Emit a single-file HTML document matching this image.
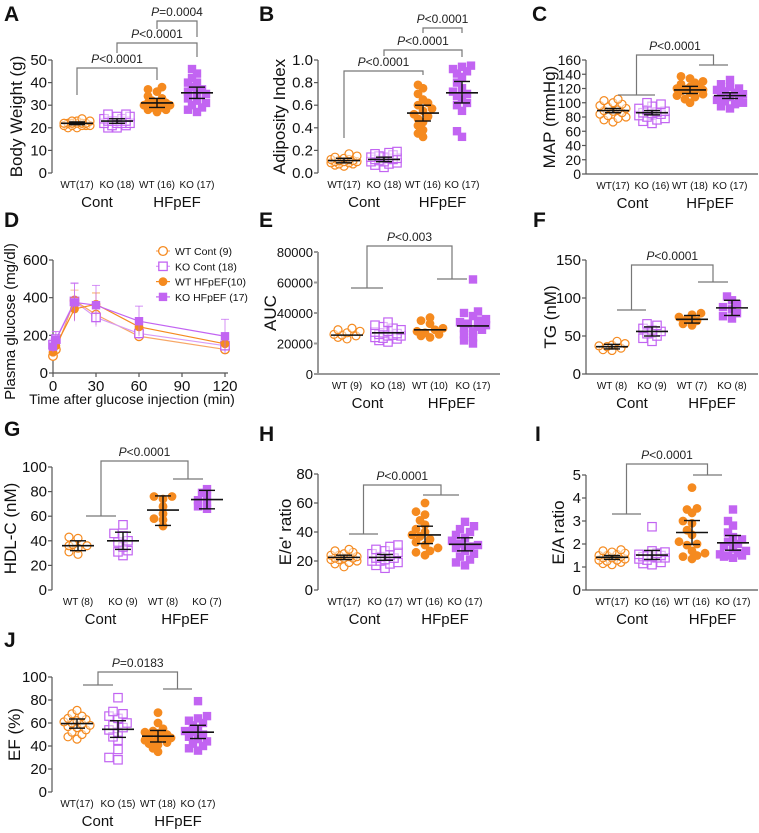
<!DOCTYPE html>
<html><head><meta charset="utf-8"><style>
html,body{margin:0;padding:0;background:#fff;}
svg{display:block;font-family:"Liberation Sans",Arial,sans-serif;}
</style></head><body>
<svg id="fig" width="759" height="833" viewBox="0 0 759 833" xmlns="http://www.w3.org/2000/svg"></svg>
<script>
// ---------- DATA ----------
const catsA=["WT(17)","KO (18)","WT (16)","KO (17)"];
const A_wtc=[20,21,21,22,22,22,22,21,23,23,24,20,21,22,23,22,21];
const A_koc=[20,21,22,22,23,23,24,25,26,26,21,22,23,24,20,22,23,25];
const A_wth=[27,28,28,29,29,30,30,31,31,31,32,33,34,36,37,38];
const A_koh=[27,28,29,30,31,32,33,35,35,36,37,38,40,40,42,44,46];
const A_mean=[22,23,31,35.5], A_lo=[21.4,22,29,33], A_hi=[22.6,24,33,38];

const catsB=["WT(17)","KO (18)","WT (16)","KO (17)"];
const B_wtc=[0.06,0.07,0.08,0.09,0.09,0.1,0.1,0.11,0.11,0.12,0.12,0.13,0.14,0.15,0.17,0.08,0.1];
const B_koc=[0.05,0.07,0.08,0.09,0.1,0.11,0.12,0.12,0.13,0.14,0.15,0.16,0.17,0.18,0.19,0.1,0.13,0.14];
const B_wth=[0.32,0.35,0.38,0.42,0.45,0.48,0.5,0.52,0.55,0.57,0.6,0.62,0.65,0.7,0.75,0.78];
const B_koh=[0.32,0.37,0.55,0.6,0.62,0.65,0.68,0.7,0.72,0.75,0.8,0.85,0.88,0.9,0.92,0.94,0.95];
const B_mean=[0.11,0.12,0.53,0.71], B_lo=[0.09,0.1,0.46,0.62], B_hi=[0.13,0.14,0.6,0.81];

const catsC=["WT(17)","KO (16)","WT (18)","KO (17)"];
const C_wtc=[73,76,78,80,82,84,86,88,89,90,92,94,96,98,100,103,105];
const C_koc=[71,74,76,78,80,82,84,85,86,87,88,90,92,95,98,100];
const C_wth=[100,105,108,110,112,114,116,117,118,119,120,122,124,126,128,130,134,137];
const C_koh=[92,95,98,100,102,104,106,108,110,112,114,116,118,120,122,126,132];
const C_mean=[89,86,118,110], C_lo=[86,83,113,106], C_hi=[92,89,123,114];

const D_time=[0,2,15,30,60,120];
const D_wtc=[90,125,385,310,195,125], D_wtcErr=[15,15,55,60,25,25];
const D_koc=[150,180,380,295,210,145], D_kocErr=[30,40,100,50,30,40];
const D_wth=[110,145,340,365,245,155], D_wthErr=[20,20,60,60,40,30];
const D_koh=[140,175,375,360,275,195], D_kohErr=[30,45,100,105,80,90];
const D_legend=["WT Cont (9)","KO Cont (18)","WT HFpEF(10)","KO HFpEF (17)"];

const catsE=["WT (9)","KO (18)","WT (10)","KO (17)"];
const E_wtc=[23000,24000,25000,25500,26000,27000,28000,29000,30000];
const E_koc=[21000,22000,23000,24000,25000,25500,26000,26500,27000,27500,28000,29000,30000,31000,32000,34000,23500,25000];
const E_wth=[24000,25000,26000,27000,28000,29000,30000,33000,35000,37000];
const E_koh=[20000,22000,24000,26000,28000,29000,30000,31000,32000,33000,34000,35000,36000,38000,40000,41000,62000];
const E_mean=[25500,27000,29000,31500];

const catsF=["WT (8)","KO (9)","WT (7)","KO (8)"];
const F_wtc=[31,32,34,36,37,38,40,43];
const F_koc=[43,47,50,53,56,58,60,64,66];
const F_wth=[64,66,70,72,75,78,80];
const F_koh=[73,76,80,85,88,92,97,102];
const F_mean=[36,56,72,87], F_lo=[33,50,67,77], F_hi=[39,62,77,97];

const catsG=["WT (8)","KO (9)","WT (8)","KO (7)"];
const G_wtc=[29,31,34,36,36,37,42,43];
const G_koc=[28,31,32,35,39,40,44,46,53];
const G_wth=[52,57,58,62,68,74,76,76];
const G_koh=[66,68,71,73,76,79,82];
const G_mean=[36,40,65,73.5], G_lo=[32,33,52.5,66], G_hi=[40,47,76.5,81];

const catsH=["WT(17)","KO (17)","WT (16)","KO (17)"];
const H_wtc=[16,18,19,20,21,21,22,22,23,23,24,24,25,26,27,28,22];
const H_koc=[15,17,18,19,20,21,22,22,23,24,25,26,27,28,30,31,20];
const H_wth=[24,26,27,29,31,33,35,37,38,40,42,45,48,52,54,60];
const H_koh=[17,19,21,23,25,27,29,30,31,32,34,36,38,40,42,44,47];
const H_mean=[22.5,22.5,38,31.5], H_lo=[21,20.5,32,27], H_hi=[24,24.5,44,36];

const catsI=["WT(17)","KO (16)","WT (16)","KO (17)"];
const I_wtc=[1.1,1.15,1.2,1.25,1.3,1.35,1.4,1.4,1.45,1.5,1.5,1.55,1.6,1.65,1.7,1.75,1.3];
const I_koc=[1.1,1.15,1.2,1.3,1.35,1.4,1.45,1.5,1.55,1.6,1.65,1.7,1.5,1.45,1.4,2.75];
const I_wth=[1.35,1.45,1.5,1.6,1.7,1.95,2.0,2.1,2.4,2.6,2.9,3.0,3.35,3.5,3.55,4.45];
const I_koh=[1.4,1.45,1.5,1.5,1.55,1.6,1.7,1.8,1.9,2.0,2.1,2.2,2.3,2.5,2.8,3.0,3.5];
const I_mean=[1.42,1.52,2.5,2.05], I_lo=[1.33,1.33,1.98,1.73], I_hi=[1.5,1.72,3.02,2.37];

const catsJ=["WT(17)","KO (15)","WT (18)","KO (17)"];
const J_wtc=[46,48,50,52,54,56,57,58,59,60,61,62,63,64,66,68,71];
const J_koc=[28,30,37,45,48,52,54,56,58,60,64,66,68,70,82];
const J_wth=[35,38,41,42,43,44,45,46,47,48,49,50,51,52,53,55,60,69];
const J_koh=[36,38,40,42,44,46,48,50,52,53,55,58,60,62,64,66,79];
const J_mean=[59.5,54.5,48.5,52], J_lo=[55.5,47.5,43.5,46.5], J_hi=[63.5,62,53.5,58];

// ---------- DRAWING ----------
const NS="http://www.w3.org/2000/svg";
const svg=document.getElementById('fig');
const OR="#F58A1F", PU="#C264F2", AX="#555";
function mk(tag,attrs,parent){const e=document.createElementNS(NS,tag);for(const k in attrs)e.setAttribute(k,attrs[k]);(parent||svg).appendChild(e);return e;}
function txt(s,x,y,size,anchor,parent,extra){const t=mk('text',Object.assign({x:x,y:y,'font-size':size,'text-anchor':anchor||'middle',fill:'#111'},extra||{}),parent);t.textContent=s;return t;}
function pText(s,x,y,parent){const t=mk('text',{x:x,y:y,'font-size':12,'text-anchor':'middle',fill:'#222'},parent);
  const i=mk('tspan',{'font-style':'italic'},t);i.textContent='P';const r=mk('tspan',{},t);r.textContent=s;return t;}
function marker(g,x,y,shape,col,open){
  let e;
  if(shape==='c') e=mk('circle',{cx:x,cy:y,r:open?4:4.4,fill:open?'#fff':col,stroke:col,'stroke-width':open?1.2:0},g);
  else e=mk('rect',{x:x-4.2,y:y-4.2,width:8.4,height:8.4,fill:open?'#fff':col,stroke:col,'stroke-width':open?1.2:0},g);
  if(open) e.setAttribute('fill-opacity','0.5');
  return e;
}
function yAxis(g,ax,y0,y1,max,ticks,fmt,fs,col,w){
  const sc=v=>y0-(v/max)*(y0-y1);
  mk('line',{x1:ax,y1:y0,x2:ax,y2:y1,stroke:col||AX,'stroke-width':w||1.2},g);
  ticks.forEach(t=>{const y=sc(t);mk('line',{x1:ax-4,y1:y,x2:ax,y2:y,stroke:col||AX,'stroke-width':w||1.2},g);
    txt(fmt?fmt(t):String(t),ax-5,y+5,fs||15,'end',g);});
  return sc;
}
function panel(p){
  const g=mk('g',{});
  
  
  const lt=txt(p.letter,p.lx,p.ly,21,'start',g,{'font-weight':'bold'});
  
  
  const sc=yAxis(g,p.ax,p.y0,p.y1,p.max,p.ticks,p.fmt,p.tfs,p.axCol,p.axW);
  if(p.xline){mk('line',{x1:p.ax,y1:p.y0,x2:p.xline,y2:p.y0,stroke:p.axCol||AX,'stroke-width':p.axW||1.2},g);}
  const yt=txt(p.ytitle,0,0,p.yfs||17,'middle',g,{transform:`translate(${p.ytx},${(p.y0+p.y1)/2}) rotate(-90)`});
  
  
  const shapes=['c','s','c','s'], cols=[OR,PU,OR,PU], open=[true,true,false,false];
  p.groups.forEach((vals,gi)=>{
    const gg=mk('g',{},g);
    
    
    const cx=p.xs[gi]; const placed=[];
    vals.slice().sort((a,b)=>a-b).forEach(v=>{
      const y=sc(v); let off=0, best=-1;
      const cand=[0,-5,5,-9,9,-13,13];
      for(const o of cand){
        const d=placed.length?Math.min(...placed.map(q=>Math.hypot(q[0]-(cx+o),q[1]-y))):99;
        if(d>=6){off=o;best=d;break;}
        if(d>best){best=d;off=o;}
      }
      placed.push([cx+off,y]);
      const m=marker(gg,cx+off,y,shapes[gi],cols[gi],open[gi]);
      
      
    });
    const my=sc(p.mean[gi]);
    const ml=mk('line',{x1:cx-16,y1:my,x2:cx+16,y2:my,stroke:'#111','stroke-width':1.6},gg);
    
    
    if(p.lo){const a=sc(p.lo[gi]),b=sc(p.hi[gi]);
      mk('line',{x1:cx,y1:a,x2:cx,y2:b,stroke:'#111','stroke-width':1.4},gg);
      mk('line',{x1:cx-8,y1:a,x2:cx+8,y2:a,stroke:'#111','stroke-width':1.4},gg);
      mk('line',{x1:cx-8,y1:b,x2:cx+8,y2:b,stroke:'#111','stroke-width':1.4},gg);}
    const cl=txt(p.cats[gi],cx,p.y0+15,10,'middle',g);
    
    
  });
  const c1=txt('Cont',(p.xs[0]+p.xs[1])/2,p.y0+34,15,'middle',g);
  
  
  const c2=txt('HFpEF',(p.xs[2]+p.xs[3])/2,p.y0+34,15,'middle',g);
  
  
  (p.brackets||[]).forEach(b=>{
    const bg=mk('g',{},g);
    
    
    mk('polyline',{points:`${b[0]},${b[3]} ${b[0]},${b[2]} ${b[1]},${b[2]} ${b[1]},${b[4]}`,fill:'none',stroke:'#777','stroke-width':1.2},bg);
    pText(b[5],(b[0]+b[1])/2,b[2]-5,bg);
  });
  (p.gbrackets||[]).forEach(b=>{
    const bg=mk('g',{},g);
    
    
    const lc=(b[0]+b[1])/2, rc=(b[3]+b[4])/2;
    mk('line',{x1:b[0],y1:b[2],x2:b[1],y2:b[2],stroke:'#777','stroke-width':1.2},bg);
    mk('line',{x1:b[3],y1:b[5],x2:b[4],y2:b[5],stroke:'#777','stroke-width':1.2},bg);
    mk('polyline',{points:`${lc},${b[2]} ${lc},${b[6]} ${rc},${b[6]} ${rc},${b[5]}`,fill:'none',stroke:'#777','stroke-width':1.2},bg);
    pText(b[7],(lc+rc)/2,b[6]-5,bg);
  });
}

panel({name:'panel-a-body-weight',letter:'A',lx:4,ly:21,ax:52,y0:173,y1:60,max:50,ticks:[0,10,20,30,40,50],ytitle:'Body Weight (g)',ytx:22,
  xs:[77,117,157,197],groups:[A_wtc,A_koc,A_wth,A_koh],mean:A_mean,lo:A_lo,hi:A_hi,cats:catsA,
  brackets:[[77,157,68,95,80,'<0.0001'],[117,197,43,53,57,'<0.0001'],[157,197,21,29,37,'=0.0004']]});
panel({name:'panel-b-adiposity-index',letter:'B',lx:259,ly:21,ax:318,y0:173,y1:60,max:1.0,ticks:[0,0.2,0.4,0.6,0.8,1.0],fmt:t=>t.toFixed(1),ytitle:'Adiposity Index',ytx:285,
  xs:[344,384,423,462],groups:[B_wtc,B_koc,B_wth,B_koh],mean:B_mean,lo:B_lo,hi:B_hi,cats:catsB,
  brackets:[[344,423,71,138,75,'<0.0001'],[384,462,50,56,57,'<0.0001'],[423,462,28,33,33,'<0.0001']]});
panel({name:'panel-c-map',letter:'C',lx:532,ly:21,ax:586,y0:174,y1:60,max:160,ticks:[0,20,40,60,80,100,120,140,160],tfs:14,ytitle:'MAP (mmHg)',ytx:555,xline:758,
  xs:[613,652,690,730],groups:[C_wtc,C_koc,C_wth,C_koh],mean:C_mean,lo:C_lo,hi:C_hi,cats:catsC,
  gbrackets:[[618,655,95,699,728,65,55,'<0.0001']]});
panel({name:'panel-e-auc',letter:'E',lx:259,ly:227,ax:318,y0:374,y1:252,max:80000,ticks:[0,20000,40000,60000,80000],tfs:13,ytitle:'AUC',ytx:276,xline:500,axCol:'#999',axW:2,
  xs:[347,388,430,473],groups:[E_wtc,E_koc,E_wth,E_koh],mean:E_mean,cats:catsE,
  gbrackets:[[351,383,288,437,467,279,246,'<0.003']]});
panel({name:'panel-f-tg',letter:'F',lx:533,ly:227,ax:586,y0:374,y1:260,max:150,ticks:[0,50,100,150],ytitle:'TG (nM)',ytx:556,xline:758,
  xs:[612,652,692,732],groups:[F_wtc,F_koc,F_wth,F_koh],mean:F_mean,lo:F_lo,hi:F_hi,cats:catsF,
  gbrackets:[[617,646,310,698,728,282,265,'<0.0001']]});
panel({name:'panel-g-hdl-c',letter:'G',lx:4,ly:436,ax:52,y0:590,y1:467,max:100,ticks:[0,20,40,60,80,100],ytitle:'HDL-C (nM)',ytx:16,
  xs:[78,123,163,207],groups:[G_wtc,G_koc,G_wth,G_koh],mean:G_mean,lo:G_lo,hi:G_hi,cats:catsG,
  gbrackets:[[86,116,516,173,203,479,461,'<0.0001']]});
panel({name:'panel-h-e-e-ratio',letter:'H',lx:259,ly:441,ax:318,y0:590,y1:474,max:80,ticks:[0,20,40,60,80],ytitle:"E/e' ratio",ytx:291,
  xs:[344,385,425,465],groups:[H_wtc,H_koc,H_wth,H_koh],mean:H_mean,lo:H_lo,hi:H_hi,cats:catsH,
  gbrackets:[[349,378,534,423,459,495,485,'<0.0001']]});
panel({name:'panel-i-e-a-ratio',letter:'I',lx:535,ly:441,ax:586,y0:590,y1:475,max:5,ticks:[0,1,2,3,4,5],ytitle:'E/A ratio',ytx:564,xline:758,
  xs:[612,652,692,733],groups:[I_wtc,I_koc,I_wth,I_koh],mean:I_mean,lo:I_lo,hi:I_hi,cats:catsI,
  gbrackets:[[612,641,514,693,722,475,464,'<0.0001']]});
panel({name:'panel-j-ef',letter:'J',lx:4,ly:647,ax:52,y0:792,y1:677,max:100,ticks:[0,20,40,60,80,100],ytitle:'EF (%)',ytx:20,
  xs:[77,118,158,198],groups:[J_wtc,J_koc,J_wth,J_koh],mean:J_mean,lo:J_lo,hi:J_hi,cats:catsJ,
  gbrackets:[[83,113,685,163,192,689,672,'=0.0183']]});

// ---------- PANEL D (line chart) ----------
(function(){
  const g=mk('g',{});
  
  
  const lt=txt('D',4,227,21,'start',g,{'font-weight':'bold'});
  
  
  const ax=53,y0=373,y1=260,x1=225;
  const sy=yAxis(g,ax,y0,y1,600,[0,200,400,600],null,15);
  const sx=t=>ax+t/120*(x1-ax);
  mk('line',{x1:ax,y1:y0,x2:x1+3,y2:y0,stroke:AX,'stroke-width':1.2},g);
  [0,30,60,90,120].forEach(t=>{mk('line',{x1:sx(t),y1:y0,x2:sx(t),y2:y0+4,stroke:AX,'stroke-width':1.2},g);
    const l=txt(String(t),sx(t),y0+18,15,'middle',g);
    
    });
  const xt=txt('Time after glucose injection (min)',132,404,14,'middle',g);
  
  
  const yt=txt('Plasma glucose (mg/dl)',0,0,15,'middle',g,{transform:`translate(15,${(y0+y1)/2+5}) rotate(-90)`});
  
  
  const series=[[D_wtc,D_wtcErr,'c',OR,true],[D_koc,D_kocErr,'s',PU,true],[D_wth,D_wthErr,'c',OR,false],[D_koh,D_kohErr,'s',PU,false]];
  const lcol=["#F7A766","#D89BF5","#F58A1F","#C264F2"];
  series.forEach((s,si)=>{
    const sg=mk('g',{},g);
    
    
    D_time.forEach((t,i)=>{const x=sx(t),a=sy(s[0][i]-s[1][i]),b=sy(s[0][i]+s[1][i]);
      mk('line',{x1:x,y1:a,x2:x,y2:b,stroke:lcol[si],'stroke-width':1,'stroke-opacity':0.7},sg);
      mk('line',{x1:x-4,y1:b,x2:x+4,y2:b,stroke:lcol[si],'stroke-width':1,'stroke-opacity':0.7},sg);});
    mk('polyline',{points:D_time.map((t,i)=>sx(t)+','+sy(s[0][i])).join(' '),fill:'none',stroke:lcol[si],'stroke-width':1.2},sg);
    D_time.forEach((t,i)=>{const m=marker(sg,sx(t),sy(s[0][i]),s[2],s[3],false);
      if(s[4]){m.setAttribute('fill','#fff');m.setAttribute('stroke-width','1.3');m.setAttribute('r','4.3');}
      
      });
    const ly=251+si*15.3;
    const le=mk('g',{},g);
    
    
    mk('line',{x1:156,y1:ly,x2:170,y2:ly,stroke:lcol[si],'stroke-width':1.2},le);
    const mm=marker(le,163,ly,s[2],s[3],false);
    if(s[4]){mm.setAttribute('fill','#fff');mm.setAttribute('stroke-width','1.3');}
    txt(D_legend[si],175,ly+4,10.5,'start',le);
  });
})();
</script>
</body></html>
